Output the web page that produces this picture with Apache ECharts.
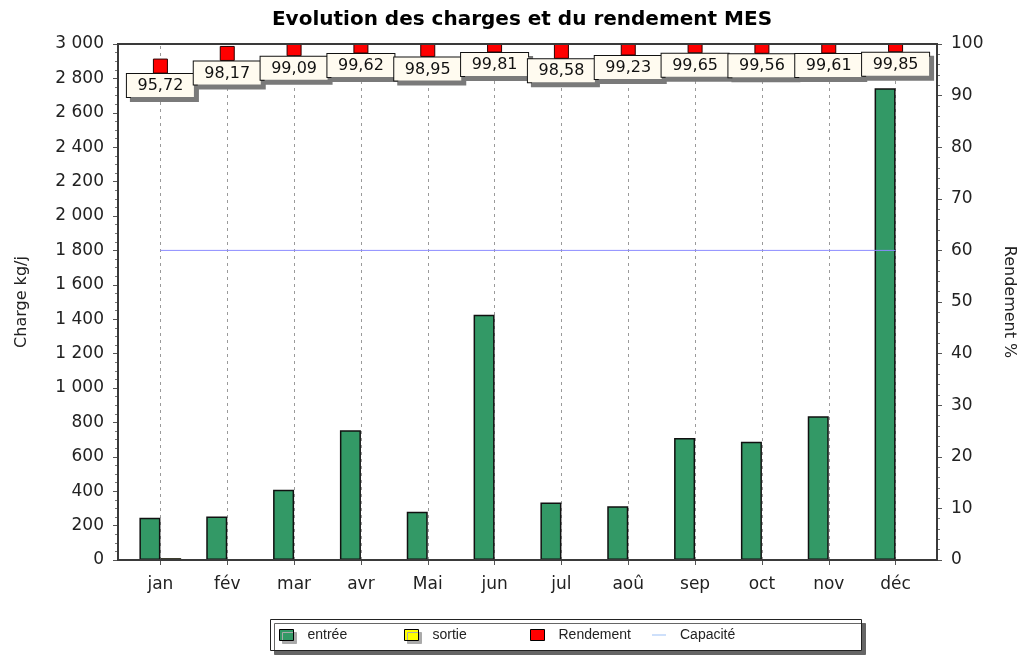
<!DOCTYPE html>
<html>
<head>
<meta charset="utf-8">
<script src="https://cdn.jsdelivr.net/npm/echarts@6/dist/echarts.min.js"></script>
<style>html,body{margin:0;padding:0;background:#fff}#c{width:1025px;height:657px}</style>
</head>
<body>
<div id="c"></div>
<script>
const months = ['jan','fév','mar','avr','Mai','jun','jul','aoû','sep','oct','nov','déc'];
const entree = [245, 253, 409, 755, 280, 1426, 334, 313, 710, 687, 836, 2743];
const sortie = [10.5, 4.6, 3.7, 2.9, 2.9, 2.7, 4.8, 2.4, 2.5, 3.0, 3.3, 4.1];
const rendement = [95.72, 98.17, 99.09, 99.62, 98.95, 99.81, 98.58, 99.23, 99.65, 99.56, 99.61, 99.85];
const capacite = [1800, 1800, 1800, 1800, 1800, 1800, 1800, 1800, 1800, 1800, 1800, 1800];
const chargeTicks = {min: 0, max: 3000, interval: 200};
const rendTicks = {min: 0, max: 100, interval: 10};
const legendNames = ['entrée', 'sortie', 'Rendement', 'Capacité'];

const FONT = 'DejaVu Sans';
const chart = echarts.init(document.getElementById('c'), null, {renderer: 'canvas'});

function fmtThousands(v) {
  if (v >= 1000) {
    const th = Math.floor(v / 1000);
    const rest = String(v % 1000).padStart(3, '0');
    return th + ' ' + rest;
  }
  return String(v);
}

const legendLeft = [279, 404, 530, 652];
const legendIcons = ['rect', 'rect', 'rect', 'path://M0,0L20,0L20,1.6L0,1.6Z'];
const legendShadow = [true, true, false, false];
const legends = legendNames.map((n, i) => ({
  left: legendLeft[i], top: 628, padding: 0, z: 10,
  itemWidth: 14, itemHeight: 11,
  textStyle: {fontFamily: 'Liberation Sans', fontSize: 14, color: '#222', padding: [0, 0, 0, 9]},
  itemStyle: legendShadow[i]
    ? {borderColor: '#000', borderWidth: 1, shadowColor: '#aaa', shadowOffsetX: 3, shadowOffsetY: 3, shadowBlur: 0}
    : (i === 2 ? {borderColor: '#000', borderWidth: 1} : {color: '#a8c8f8', borderWidth: 0}),
  data: [{name: n, icon: legendIcons[i], symbolKeepAspect: true}]
}));

const option = {
  backgroundColor: '#fff',
  animation: false,
  title: {
    text: 'Evolution des charges et du rendement MES',
    left: 517, top: 5, textAlign: 'center',
    textStyle: {fontFamily: FONT, fontWeight: 'bold', fontSize: 20, color: '#000'}
  },
  grid: {left: 127, right: 96, top: 44, bottom: 97, containLabel: false},
  graphic: [{
    type: 'rect', z: 100, silent: true,
    shape: {x: 118, y: 44, width: 819, height: 516},
    style: {fill: 'none', stroke: '#3a3a3a', lineWidth: 2}
  }, {
    type: 'rect', z: 1, silent: true,
    shape: {x: 270.5, y: 619.5, width: 591, height: 31},
    style: {fill: '#fff', stroke: '#222', lineWidth: 1,
            shadowColor: '#666', shadowOffsetX: 4, shadowOffsetY: 4, shadowBlur: 0}
  }],
  legend: legends,
  xAxis: {
    type: 'category', data: months,
    axisLine: {show: false},
    axisTick: {show: true, alignWithLabel: true, length: 5, lineStyle: {color: '#555'}},
    axisLabel: {fontFamily: FONT, fontSize: 17, color: '#222', margin: 16},
    splitLine: {show: false}
  },
  yAxis: [{
    type: 'value', position: 'left', offset: 9,
    min: chargeTicks.min, max: chargeTicks.max, interval: chargeTicks.interval,
    name: 'Charge kg/j', nameLocation: 'middle', nameRotate: 90, nameGap: 88,
    nameTextStyle: {fontFamily: FONT, fontSize: 16, color: '#222'},
    axisLine: {show: false},
    axisTick: {show: true, length: 5, lineStyle: {color: '#555'}},
    minorTick: {show: true, splitNumber: 4, length: 3, lineStyle: {color: '#777'}},
    axisLabel: {fontFamily: FONT, fontSize: 17, color: '#222', margin: 14, formatter: fmtThousands},
    splitLine: {show: false}
  }, {
    type: 'value', position: 'right', offset: 8,
    min: rendTicks.min, max: rendTicks.max, interval: rendTicks.interval,
    name: 'Rendement %', nameLocation: 'middle', nameRotate: -90, nameGap: 64,
    nameTextStyle: {fontFamily: FONT, fontSize: 16, color: '#222'},
    axisLine: {show: false},
    axisTick: {show: true, length: 5, lineStyle: {color: '#555'}},
    minorTick: {show: true, splitNumber: 5, length: 3, lineStyle: {color: '#777'}},
    axisLabel: {fontFamily: FONT, fontSize: 17, color: '#222', margin: 14},
    splitLine: {show: false}
  }],
  series: [
    {
      name: '_grid', type: 'line', data: [], z: 1, silent: true,
      markLine: {
        silent: true, z: 1, symbol: ['none', 'none'], label: {show: false},
        lineStyle: {color: '#9a9a9a', type: [3, 4], width: 1},
        data: months.map(m => ({xAxis: m}))
      }
    },
    {
      name: 'entrée', type: 'bar', data: entree, barWidth: 21, barGap: '0%', z: 2,
      itemStyle: {color: '#339966', borderColor: '#111', borderWidth: 1.5}
    },
    {
      name: 'sortie', type: 'bar', data: sortie, barWidth: 21, z: 2,
      itemStyle: {color: '#ffff00', borderColor: '#111', borderWidth: 1}
    },
    {
      name: 'Capacité', type: 'line', data: capacite, z: 3,
      showSymbol: false, symbol: 'none',
      lineStyle: {color: '#8c8cff', width: 1},
      itemStyle: {color: '#a8c8f8'}
    },
    {
      name: 'Rendement', type: 'custom', yAxisIndex: 1, z: 4,
      data: months.map((m, i) => [m, rendement[i]]),
      encode: {x: 0, y: 1},
      itemStyle: {color: '#ff0000', borderColor: '#000', borderWidth: 1},
      renderItem: function (params, api) {
        const p = api.coord([api.value(0), api.value(1)]);
        const h = 7;
        const top = Math.max(p[1] - h, params.coordSys.y);
        return {
          type: 'rect',
          shape: {x: p[0] - h, y: top, width: 2 * h, height: p[1] + h - top},
          style: {fill: '#ff0000', stroke: '#2a0000', lineWidth: 1}
        };
      }
    },
    {
      name: '_labels', type: 'scatter', yAxisIndex: 1, z: 5, silent: true,
      data: rendement, symbol: 'rect', symbolSize: 14,
      itemStyle: {color: 'rgba(0,0,0,0)', opacity: 1},
      label: {
        show: true, position: 'bottom', distance: 1, opacity: 1,
        formatter: p => p.value.toFixed(2).replace('.', ','),
        fontFamily: FONT, fontSize: 16, color: '#111',
        width: 61, align: 'center', padding: [4, 3, 3, 3],
        backgroundColor: '#fffbf0', borderColor: '#111', borderWidth: 1,
        shadowColor: '#7a7a7a', shadowOffsetX: 4, shadowOffsetY: 4, shadowBlur: 0
      }
    }
  ]
};
chart.setOption(option);
</script>
</body>
</html>
